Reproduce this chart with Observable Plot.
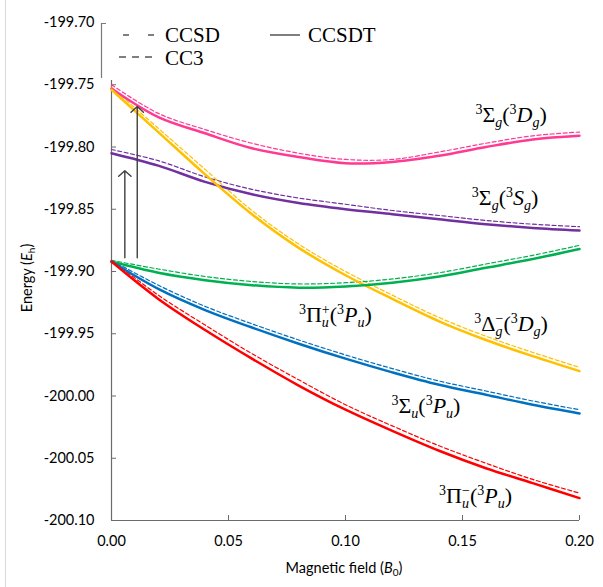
<!DOCTYPE html>
<html><head><meta charset="utf-8">
<script src="https://cdn.jsdelivr.net/npm/d3@7"></script>
<script src="https://cdn.jsdelivr.net/npm/@observablehq/plot@0.6"></script>
<style>
body{margin:0;background:#fff;}
#chart{position:relative;width:603px;height:587px;overflow:hidden;}
</style></head><body><div id="chart"></div>
<script>
// Magnetic field (B0)
const field = [0, 0.02, 0.04, 0.06, 0.08, 0.10, 0.12, 0.14, 0.16, 0.18, 0.20];

// CCSDT energies (Eh)
const ccsdtSgDg = [-199.753, -199.776, -199.789, -199.801, -199.808, -199.813, -199.812, -199.807, -199.800, -199.794, -199.791];
const ccsdtSgSg = [-199.805, -199.815, -199.828, -199.838, -199.845, -199.850, -199.854, -199.858, -199.862, -199.865, -199.867];
const ccsdtDgDg = [-199.754, -199.788, -199.822, -199.854, -199.881, -199.903, -199.922, -199.940, -199.955, -199.968, -199.980];
const ccsdtPuPlus = [-199.892, -199.901, -199.907, -199.911, -199.913, -199.912, -199.909, -199.904, -199.897, -199.890, -199.882];
const ccsdtSuPu = [-199.892, -199.914, -199.931, -199.945, -199.958, -199.970, -199.981, -199.991, -199.999, -200.007, -200.014];
const ccsdtPuMinus = [-199.892, -199.922, -199.947, -199.970, -199.9916, -200.011, -200.028, -200.044, -200.058, -200.070, -200.082];

// CC3 energies (Eh)
const cc3SgDg = [-199.750, -199.773, -199.786, -199.797, -199.805, -199.810, -199.810, -199.804, -199.797, -199.791, -199.788];
const cc3SgSg = [-199.802, -199.811, -199.824, -199.834, -199.841, -199.846, -199.851, -199.855, -199.859, -199.862, -199.864];
const cc3DgDg = [-199.752, -199.785, -199.818, -199.851, -199.878, -199.900, -199.919, -199.937, -199.952, -199.965, -199.977];
const cc3PuPlus = [-199.891, -199.898, -199.904, -199.908, -199.910, -199.909, -199.906, -199.901, -199.894, -199.887, -199.879];
const cc3SuPu = [-199.891, -199.911, -199.928, -199.942, -199.955, -199.967, -199.978, -199.988, -199.996, -200.004, -200.011];
const cc3PuMinus = [-199.891, -199.919, -199.943, -199.966, -199.987, -200.007, -200.024, -200.040, -200.054, -200.067, -200.078];

const stateNames = ["SgDg", "SgSg", "DgDg", "PuPlus", "SuPu", "PuMinus"];
const stateColors = ["#ff3a92", "#7030a0", "#ffc000", "#00b050", "#0070c0", "#ff0000"];
const ccsdtSeries = [ccsdtSgDg, ccsdtSgSg, ccsdtDgDg, ccsdtPuPlus, ccsdtSuPu, ccsdtPuMinus];
const cc3Series = [cc3SgDg, cc3SgSg, cc3DgDg, cc3PuPlus, cc3SuPu, cc3PuMinus];

// State labels: sym, sub, sup, term, position (B, E of baseline centre)
const labelSym = ["Σ", "Σ", "Δ", "Π", "Σ", "Π"];
const labelSub = ["g", "g", "g", "u", "u", "u"];
const labelSup = ["", "", "−", "+", "", "−"];
const labelTerm = ["D", "S", "D", "P", "P", "P"];
const labelTermSub = ["g", "g", "g", "u", "u", "u"];
const labelB = [0.171, 0.1684, 0.171, 0.0959, 0.1346, 0.1558];
const labelE = [-199.7803, -199.847, -199.948, -199.941, -200.0143, -200.0863];

// Excitation arrows
const arrowB = [0.0057, 0.011];
const arrowFrom = [-199.889, -199.889];
const arrowTo = [-199.819, -199.7675];

const xTicks = [0, 0.05, 0.10, 0.15, 0.20];
const yTicks = [-200.10, -200.05, -200.00, -199.95, -199.90, -199.85, -199.80, -199.75, -199.70];

const toRows = (series) => series.flatMap((vals, i) => field.map((B, j) => ({B, E: vals[j], state: stateNames[i], color: stateColors[i]})));
const ccsdtRows = toRows(ccsdtSeries);
const cc3Rows = toRows(cc3Series);
const arrows = arrowB.map((B, i) => ({B, E1: arrowFrom[i], E2: arrowTo[i]}));

const fmt = d => d.toFixed(2);

const plot = Plot.plot({
  width: 603, height: 587,
  marginLeft: 111, marginRight: 24, marginTop: 22, marginBottom: 67,
  x: {domain: [0, 0.2]},
  y: {domain: [-200.10, -199.70]},
  color: {type: "identity"},
  style: {fontFamily: "Lato, 'Open Sans', sans-serif", fontSize: "14px", color: "#000", background: "#fff", overflow: "visible"},
  marks: [
    Plot.axisY({ticks: yTicks, tickSize: 0, tickPadding: 17, tickFormat: fmt, label: null, fontSize: 14.5, fill: "#000"}),
    Plot.axisY({ticks: yTicks, tickSize: -5, tickFormat: () => "", label: null, stroke: "#6b6b6b"}),
    Plot.axisX({ticks: xTicks, tickSize: 0, tickPadding: 15, tickFormat: fmt, label: null, fontSize: 14.5, fill: "#000"}),
    Plot.axisX({ticks: xTicks, tickSize: -5, tickFormat: () => "", label: null, stroke: "#6b6b6b"}),
    Plot.ruleX([0], {stroke: "#6b6b6b", strokeWidth: 1.2}),
    Plot.ruleY([-200.10], {stroke: "#6b6b6b", strokeWidth: 1.2}),
    Plot.line(cc3Rows, {x: "B", y: "E", z: "state", stroke: "color", strokeWidth: 1.2, strokeDasharray: "4,2.5", curve: "catmull-rom"}),
    Plot.line(ccsdtRows, {x: "B", y: "E", z: "state", stroke: "color", strokeWidth: 2.5, curve: "catmull-rom"}),
    Plot.arrow(arrows, {x1: "B", x2: "B", y1: "E1", y2: "E2", stroke: "#3f3f3f", strokeWidth: 1.4, headAngle: 95, headLength: 9})
  ]
});

document.getElementById("chart").appendChild(plot);
const svg = d3.select(plot);
const sx = plot.scale("x"), sy = plot.scale("y");
const serif = "'Liberation Serif', 'Times New Roman', serif";

// state labels
labelSym.forEach((sym, i) => {
  const t = svg.append("text")
    .attr("x", sx.apply(labelB[i])).attr("y", sy.apply(labelE[i]))
    .attr("text-anchor", "middle").attr("font-family", serif).attr("font-size", 22).attr("fill", "#000");
  t.append("tspan").attr("font-size", 14).attr("baseline-shift", "8px").text("3");
  t.append("tspan").text(sym);
  t.append("tspan").attr("font-size", 14).attr("font-style", "italic").attr("baseline-shift", "-5px").text(labelSub[i]);
  if (labelSup[i]) t.append("tspan").attr("font-size", 14).attr("dx", -7).attr("baseline-shift", "8px").text(labelSup[i]);
  t.append("tspan").text("(");
  t.append("tspan").attr("font-size", 14).attr("baseline-shift", "8px").text("3");
  t.append("tspan").attr("font-style", "italic").text(labelTerm[i]);
  t.append("tspan").attr("font-size", 14).attr("font-style", "italic").attr("baseline-shift", "-5px").text(labelTermSub[i]);
  t.append("tspan").text(")");
});

// axis titles
const sans = "Lato, 'Open Sans', sans-serif";
const xt = svg.append("text").attr("x", 344).attr("y", 573).attr("text-anchor", "middle")
  .attr("font-family", sans).attr("font-size", 14.5).attr("fill", "#000");
xt.append("tspan").text("Magnetic field (");
xt.append("tspan").attr("font-style", "italic").text("B");
xt.append("tspan").attr("font-size", 10).attr("baseline-shift", "-3px").text("0");
xt.append("tspan").text(")");

const yt = svg.append("text").attr("transform", "translate(32,278) rotate(-90)").attr("text-anchor", "middle")
  .attr("font-family", sans).attr("font-size", 14.5).attr("fill", "#000");
yt.append("tspan").text("Energy (");
yt.append("tspan").attr("font-style", "italic").text("E");
yt.append("tspan").attr("font-size", 10).attr("baseline-shift", "-3px").text("h");
yt.append("tspan").text(")");

// legend
const lg = svg.append("g");
lg.append("rect").attr("x", 101).attr("y", 19).attr("width", 310).attr("height", 61).attr("fill", "#fff");
lg.append("path").attr("d", "M106,23.5H101.5V78").attr("fill", "none").attr("stroke", "#7a7a7a").attr("stroke-width", 1.2);
lg.append("line").attr("x1", 123).attr("x2", 156).attr("y1", 35).attr("y2", 35).attr("stroke", "#555").attr("stroke-width", 1.3).attr("stroke-dasharray", "6,19");
lg.append("line").attr("x1", 119).attr("x2", 156).attr("y1", 57).attr("y2", 57).attr("stroke", "#555").attr("stroke-width", 1.3).attr("stroke-dasharray", "7,6");
lg.append("line").attr("x1", 270).attr("x2", 300).attr("y1", 35).attr("y2", 35).attr("stroke", "#555").attr("stroke-width", 1.5);
const legText = (x, y, s) => lg.append("text").attr("x", x).attr("y", y).attr("text-anchor", "start").attr("font-family", serif).attr("font-size", 21).attr("fill", "#000").text(s);
legText(165, 42, "CCSD");
legText(165, 65, "CC3");
legText(308, 42, "CCSDT");

// image frame left edge
svg.append("line").attr("x1", 5.5).attr("x2", 5.5).attr("y1", 0).attr("y2", 587).attr("stroke", "#d9d9d9");
</script>
</body></html>
